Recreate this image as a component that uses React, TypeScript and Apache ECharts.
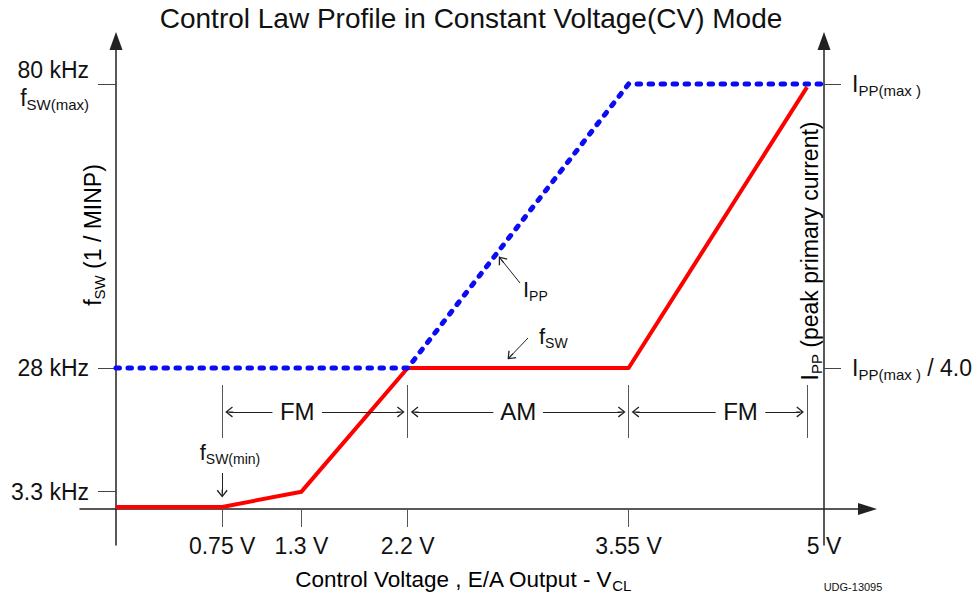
import React, { useEffect, useRef } from 'react';
import * as echarts from 'echarts';

// ---- data (schematic axes: x in volt-like units, y in kHz-like units) ----
const xTickLabels = ['0.75 V', '1.3 V', '2.2 V', '3.55 V', '5 V'];
const xTickPos = [0.75, 1.31, 2.06, 3.62, 5];
const leftTickLabels = ['3.3 kHz', '28 kHz', '80 kHz'];
const leftTickSubs = ['', '', 'SW(max)'];
const leftTickPos = [3.26, 26.54, 80];
const rightTickPos = [26.54, 80];
const rightTickTail = [' / 4.0', ''];

const fswX = [0, 0.75, 1.31, 2.06, 3.62, 4.88];
const fswY = [0.38, 0.38, 3.26, 26.54, 26.54, 79.4];
const ippX = [0, 2.06, 3.62, 5];
const ippY = [26.54, 26.54, 80, 80];

const regionBounds = [0.75, 2.06, 3.62, 4.88];
const regionNames = ['FM', 'AM', 'FM'];
const regionNameX = [1.28, 2.84, 4.41];
const regionArrowY = 18.26;
const regionBarY = [13.37, 23.34];

// annotation arrows: [fromX, fromY, toX, toY]
const noteArrows = [
  [0.75, 6.78, 0.75, 2.92],
  [2.853, 42.54, 2.721, 46.93],
  [2.91, 32.19, 2.785, 28.71],
];
// annotation texts: [x, y], main, subscript, placement
const noteTextPos = [
  [0.805, 10.54],
  [2.874, 41.22],
  [2.987, 32.38],
];
const noteTextMain = ['f', 'I', 'f'];
const noteTextSub = ['SW(min)', 'PP', 'SW'];
const noteTextPlace = ['inside', 'right', 'right'];

const X_MIN = -0.254;
const X_MAX = 5.307;
const Y_MIN = -6.78;
const Y_MAX = 88.09;

const FONT = '"Liberation Sans", Arial, Helvetica, sans-serif';
const INK = '#111111';

const richTick = {
  a: { fontSize: 23, fontFamily: FONT, color: INK, lineHeight: 28 },
  s: { fontSize: 15, fontFamily: FONT, color: INK, lineHeight: 15, verticalAlign: 'bottom' },
};
const richAxisName = {
  a: { fontSize: 22.5, fontFamily: FONT, color: INK, lineHeight: 28 },
  s: { fontSize: 15, fontFamily: FONT, color: INK, lineHeight: 15, verticalAlign: 'bottom' },
};
const richNote = {
  a: { fontSize: 22, fontFamily: FONT, color: INK, lineHeight: 26 },
  s: { fontSize: 14, fontFamily: FONT, color: INK, lineHeight: 14, verticalAlign: 'bottom' },
};

const CHEVRON =
  'path://M5,0 L10,8.5 L9,9.5 L5,2.4 L1,9.5 L0,8.5 Z M4.5,0.6 L5.5,0.6 L5.5,10 L4.5,10 Z';

function nearestIndex(arr: number[], v: number) {
  let best = 0;
  for (let i = 1; i < arr.length; i++) {
    if (Math.abs(arr[i] - v) < Math.abs(arr[best] - v)) best = i;
  }
  return best;
}

export default function App() {
  const ref = useRef<HTMLDivElement>(null);

  useEffect(() => {
    if (!ref.current) return;
    const chart = echarts.init(ref.current, null, { renderer: 'svg' });

    const barStyle = { color: '#555555', width: 1, type: 'solid' };
    const arrowStyle = { color: '#222222', width: 1, type: 'solid' };

    const lineData: any[] = [];
    regionBounds.forEach((b) => {
      lineData.push([
        { coord: [b, regionBarY[0]], symbol: 'none', lineStyle: barStyle },
        { coord: [b, regionBarY[1]], symbol: 'none', lineStyle: barStyle },
      ]);
    });
    const tipGap = 0.05;
    const labelGap = 0.175;
    regionNames.forEach((_, i) => {
      lineData.push([
        { coord: [regionNameX[i] - labelGap, regionArrowY], symbol: 'none' },
        { coord: [regionBounds[i] + tipGap, regionArrowY], symbol: CHEVRON },
      ]);
      lineData.push([
        { coord: [regionNameX[i] + labelGap, regionArrowY], symbol: 'none' },
        { coord: [regionBounds[i + 1] - tipGap, regionArrowY], symbol: CHEVRON },
      ]);
    });
    noteArrows.forEach((a) => {
      lineData.push([
        { coord: [a[0], a[1]], symbol: 'none' },
        { coord: [a[2], a[3]], symbol: CHEVRON },
      ]);
    });

    const pointData: any[] = [];
    regionNames.forEach((n, i) => {
      pointData.push({
        coord: [regionNameX[i], regionArrowY],
        label: {
          show: true,
          position: 'inside',
          formatter: n,
          fontSize: 24,
          fontFamily: FONT,
          color: INK,
        },
      });
    });
    noteTextPos.forEach((p, i) => {
      pointData.push({
        coord: p,
        label: {
          show: true,
          position: noteTextPlace[i],
          distance: 0,
          formatter: `{a|${noteTextMain[i]}}{s|${noteTextSub[i]}}`,
          rich: richNote,
        },
      });
    });

    const option: any = {
      animation: false,
      backgroundColor: '#ffffff',
      grid: {
        left: 80,
        right: 111.5,
        top: 41,
        bottom: 51,
        containLabel: false,
        outerBoundsMode: 'none',
      },
      xAxis: {
        type: 'value',
        min: X_MIN,
        max: X_MAX,
        position: 'bottom',
        offset: -36,
        axisLine: {
          show: true,
          onZero: false,
          symbol: ['none', 'triangle'],
          symbolSize: [12, 19],
          lineStyle: { color: '#222222', width: 1.5 },
        },
        axisTick: {
          show: true,
          customValues: xTickPos.slice(0, 4),
          length: 18,
          lineStyle: { color: '#555555', width: 1 },
        },
        axisLabel: {
          show: true,
          customValues: xTickPos,
          margin: 25,
          fontSize: 23,
          fontFamily: FONT,
          color: INK,
          formatter: (v: number) => xTickLabels[nearestIndex(xTickPos, v)],
        },
        splitLine: { show: false },
      },
      yAxis: [
        {
          type: 'value',
          min: Y_MIN,
          max: Y_MAX,
          position: 'left',
          offset: -36,
          axisLine: {
            show: true,
            onZero: false,
            symbol: ['none', 'triangle'],
            symbolSize: [13, 18],
            lineStyle: { color: '#222222', width: 1.5 },
          },
          axisTick: {
            show: true,
            customValues: leftTickPos,
            length: 18,
            lineStyle: { color: '#444444', width: 1 },
          },
          axisLabel: {
            show: true,
            customValues: leftTickPos,
            margin: 27,
            formatter: (v: number) => {
              const i = nearestIndex(leftTickPos, v);
              const sub = leftTickSubs[i];
              return sub
                ? `{a|${leftTickLabels[i]}}\n{a|f}{s|${sub}}`
                : `{a|${leftTickLabels[i]}}`;
            },
            rich: richTick,
          },
          splitLine: { show: false },
        },
        {
          type: 'value',
          min: Y_MIN,
          max: Y_MAX,
          position: 'right',
          offset: -43.5,
          axisLine: {
            show: true,
            onZero: false,
            symbol: ['none', 'triangle'],
            symbolSize: [13, 18],
            lineStyle: { color: '#222222', width: 1.5 },
          },
          axisTick: {
            show: true,
            customValues: rightTickPos,
            length: 17,
            lineStyle: { color: '#444444', width: 1 },
          },
          axisLabel: {
            show: true,
            customValues: rightTickPos,
            margin: 28,
            formatter: (v: number) => {
              const i = nearestIndex(rightTickPos, v);
              const tail = rightTickTail[i];
              return tail ? `{a|I}{s|PP(max )}{a|${tail}}` : `{a|I}{s|PP(max )}`;
            },
            rich: richTick,
          },
          splitLine: { show: false },
        },
      ],
      series: [
        {
          name: 'fSW',
          type: 'line',
          xAxisIndex: 0,
          yAxisIndex: 0,
          symbol: 'none',
          silent: true,
          data: fswX.map((x, i) => [x, fswY[i]]),
          lineStyle: { color: '#ff0000', width: 4, cap: 'butt', join: 'round' },
          z: 3,
        },
        {
          name: 'IPP',
          type: 'line',
          xAxisIndex: 0,
          yAxisIndex: 0,
          symbol: 'none',
          silent: true,
          data: ippX.map((x, i) => [x, ippY[i]]),
          lineStyle: { color: '#0b0bf5', width: 5, type: [3.5, 8.5], cap: 'round', join: 'round' },
          z: 4,
        },
        {
          name: 'notes',
          type: 'line',
          xAxisIndex: 0,
          yAxisIndex: 0,
          symbol: 'none',
          silent: true,
          data: [],
          z: 2,
          markLine: {
            silent: true,
            animation: false,
            symbol: ['none', CHEVRON],
            symbolSize: [11, 8],
            lineStyle: arrowStyle,
            label: { show: false },
            emphasis: { disabled: true },
            data: lineData,
          },
          markPoint: {
            silent: true,
            animation: false,
            symbol: 'rect',
            symbolSize: 0,
            itemStyle: { color: 'rgba(0,0,0,0)' },
            data: pointData,
          },
        },
      ],
      graphic: [
        {
          type: 'text',
          x: 471,
          y: 18,
          silent: true,
          style: {
            text: 'Control Law Profile in Constant Voltage(CV) Mode',
            fontSize: 28,
            fontFamily: FONT,
            fill: INK,
            align: 'center',
            verticalAlign: 'middle',
            textAlign: 'center',
            textVerticalAlign: 'middle',
          },
        },
        {
          type: 'text',
          x: 93,
          y: 235,
          rotation: Math.PI / 2,
          silent: true,
          style: {
            text: '{a|f}{s|SW}{a| (1 / MINP)}',
            rich: richTick,
            align: 'center',
            verticalAlign: 'middle',
            textAlign: 'center',
            textVerticalAlign: 'middle',
          },
        },
        {
          type: 'text',
          x: 810,
          y: 251,
          rotation: Math.PI / 2,
          silent: true,
          style: {
            text: '{a|I}{s|PP}{a| (peak primary current)}',
            rich: richTick,
            align: 'center',
            verticalAlign: 'middle',
            textAlign: 'center',
            textVerticalAlign: 'middle',
          },
        },
        {
          type: 'text',
          x: 463,
          y: 579,
          silent: true,
          style: {
            text: '{a|Control Voltage , E/A Output - V}{s|CL}',
            rich: richAxisName,
            align: 'center',
            verticalAlign: 'middle',
            textAlign: 'center',
            textVerticalAlign: 'middle',
          },
        },
        {
          type: 'text',
          x: 853,
          y: 587,
          silent: true,
          style: {
            text: 'UDG-13095',
            fontSize: 11,
            fontFamily: FONT,
            fill: INK,
            align: 'center',
            verticalAlign: 'middle',
            textAlign: 'center',
            textVerticalAlign: 'middle',
          },
        },
      ],
    };

    chart.setOption(option);
    return () => {
      chart.dispose();
    };
  }, []);

  return (
    <div
      ref={ref}
      style={{
        position: 'fixed',
        left: 0,
        top: 0,
        width: 979,
        height: 596,
        background: '#ffffff',
      }}
    />
  );
}
